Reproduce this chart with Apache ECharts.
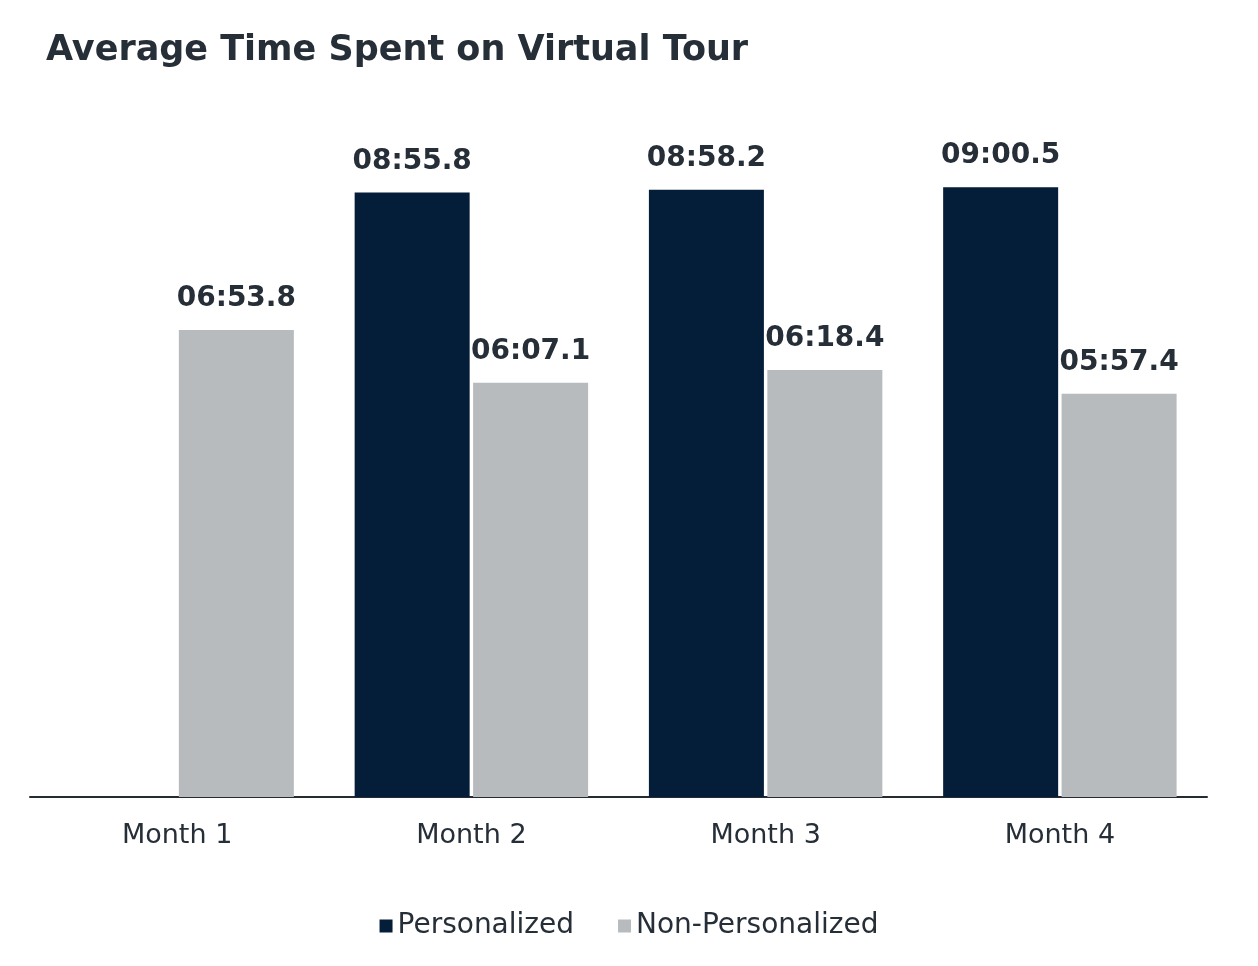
<!DOCTYPE html>
<html>
<head>
<meta charset="utf-8">
<script src="https://cdn.jsdelivr.net/npm/echarts@6/dist/echarts.min.js"></script>
<style>
html, body { margin: 0; padding: 0; background: #fff; }
#chart { width: 1258px; height: 966px; }
</style>
</head>
<body>
<div id="chart"></div>
<script>
var months = ['Month 1', 'Month 2', 'Month 3', 'Month 4'];
// values in seconds (mm:ss.s)
var personalized = [null, 535.8, 538.2, 540.5];
var nonPersonalized = [413.8, 367.1, 378.4, 357.4];

function fmt(sec) {
	var m = Math.floor(sec / 60);
	var s = sec - m * 60;
	var mm = (m < 10 ? '0' : '') + m;
	var ss = (s < 10 ? '0' : '') + s.toFixed(1);
	return mm + ':' + ss;
}

var textColor = '#262e38';
var font = '"DejaVu Sans", Verdana, sans-serif';

var chart = echarts.init(document.getElementById('chart'));
chart.setOption({
	animation: false,
	title: {
		text: 'Average Time Spent on Virtual Tour',
		left: 41,
		top: 28,
		textStyle: { fontFamily: font, fontSize: 35, fontWeight: 'bold', color: textColor }
	},
	legend: {
		bottom: 21,
		left: 'center',
		itemWidth: 13,
		itemHeight: 13,
		itemGap: 44,
		icon: 'rect',
		textStyle: { fontFamily: font, fontSize: 28, color: textColor },
		data: ['Personalized', 'Non-Personalized']
	},
	grid: { left: 30, right: 51, top: 120, bottom: 169, containLabel: false },
	xAxis: {
		type: 'category',
		data: months,
		axisLine: { lineStyle: { color: '#252b33', width: 2 } },
		axisTick: { show: false },
		axisLabel: { fontFamily: font, fontSize: 27, color: textColor, margin: 25 }
	},
	yAxis: {
		type: 'value',
		min: 0,
		max: 600,
		show: false,
		splitLine: { show: false }
	},
	series: [
		{
			name: 'Personalized',
			type: 'bar',
			data: personalized,
			barWidth: 115,
			barGap: '3%',
			itemStyle: { color: '#041d38' },
			label: {
				show: true,
				position: 'top',
				distance: 17,
				fontFamily: font,
				fontSize: 28,
				fontWeight: 'bold',
				color: textColor,
				formatter: function (p) { return fmt(p.value); }
			}
		},
		{
			name: 'Non-Personalized',
			type: 'bar',
			data: nonPersonalized,
			barWidth: 115,
			itemStyle: { color: '#b8bbbe' },
			label: {
				show: true,
				position: 'top',
				distance: 17,
				fontFamily: font,
				fontSize: 28,
				fontWeight: 'bold',
				color: textColor,
				formatter: function (p) { return fmt(p.value); }
			}
		}
	]
});
</script>
</body>
</html>
